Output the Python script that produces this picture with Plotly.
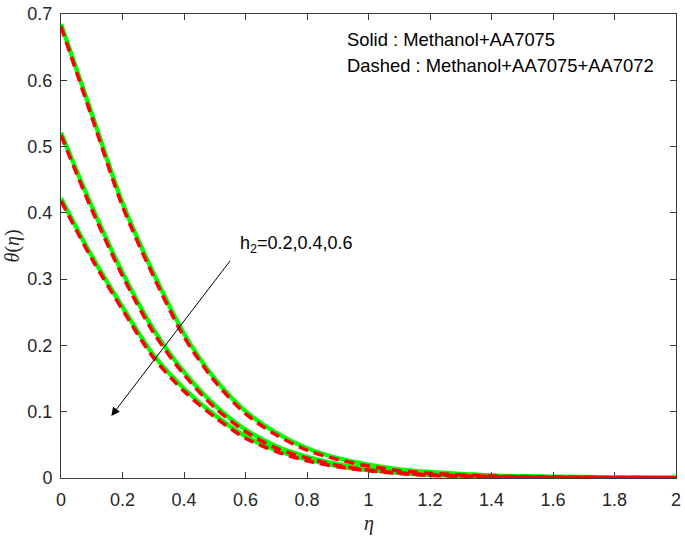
import plotly.graph_objects as go

eta = [0, 0.1, 0.2, 0.3, 0.4, 0.5, 0.6, 0.7, 0.8, 0.9, 1.0, 1.1, 1.2, 1.4, 1.6, 1.8, 2.0]

# Solid: Methanol+AA7075 (h2 = 0.2, 0.4, 0.6)
solid_h1 = [0.685, 0.55, 0.415, 0.31, 0.218, 0.150, 0.101, 0.068, 0.045, 0.030, 0.020, 0.013, 0.009, 0.004, 0.002, 0.001, 0.0005]
solid_h2 = [0.521, 0.41, 0.31, 0.225, 0.160, 0.110, 0.073, 0.048, 0.032, 0.021, 0.014, 0.009, 0.006, 0.003, 0.0013, 0.0006, 0.0003]
solid_h3 = [0.422, 0.335, 0.258, 0.186, 0.135, 0.095, 0.063, 0.042, 0.028, 0.018, 0.012, 0.008, 0.005, 0.0022, 0.001, 0.0005, 0.0002]

# Dashed: Methanol+AA7075+AA7072
dash_h1 = [0.681, 0.545, 0.41, 0.305, 0.213, 0.146, 0.097, 0.065, 0.042, 0.028, 0.018, 0.011, 0.007, 0.003, 0.0014, 0.0007, 0.0003]
dash_h2 = [0.517, 0.405, 0.305, 0.220, 0.156, 0.106, 0.070, 0.045, 0.030, 0.019, 0.012, 0.008, 0.005, 0.0022, 0.001, 0.0004, 0.0002]
dash_h3 = [0.418, 0.331, 0.254, 0.182, 0.131, 0.092, 0.060, 0.040, 0.026, 0.017, 0.011, 0.007, 0.004, 0.0018, 0.0008, 0.0004, 0.0001]

x_ticks = [0, 0.2, 0.4, 0.6, 0.8, 1.0, 1.2, 1.4, 1.6, 1.8, 2.0]
x_tick_labels = ["0", "0.2", "0.4", "0.6", "0.8", "1", "1.2", "1.4", "1.6", "1.8", "2"]
y_ticks = [0, 0.1, 0.2, 0.3, 0.4, 0.5, 0.6, 0.7]
y_tick_labels = ["0", "0.1", "0.2", "0.3", "0.4", "0.5", "0.6", "0.7"]

fig = go.Figure()
for ys in [solid_h1, solid_h2, solid_h3]:
    fig.add_trace(go.Scatter(x=eta, y=ys, mode="lines", line=dict(color="#00ff00", width=4.4, shape="spline", smoothing=0.8),
                             showlegend=False, hoverinfo="skip"))
for ys in [dash_h1, dash_h2, dash_h3]:
    fig.add_trace(go.Scatter(x=eta, y=ys, mode="lines", line=dict(color="#ff0000", width=3.6, dash="10px,6px", shape="spline", smoothing=0.8),
                             showlegend=False, hoverinfo="skip"))

axis_common = dict(showline=True, linecolor="#3a3a3a", linewidth=1, mirror="ticks", ticks="inside", ticklen=6,
                   tickcolor="#3a3a3a", showgrid=False, zeroline=False, ticklabeloverflow="allow",
                   tickfont=dict(family="Liberation Sans, Arial", size=18, color="#262626"))

fig.update_layout(
    width=685, height=538,
    margin=dict(l=61, r=4, t=5, b=60),
    paper_bgcolor="white", plot_bgcolor="white",
    xaxis=dict(range=[0, 2], tickvals=x_ticks, ticktext=x_tick_labels, ticklabelstandoff=5, **axis_common),
    yaxis=dict(range=[0, 0.7], tickvals=y_ticks, ticktext=y_tick_labels, ticklabelstandoff=4, **axis_common),
)

# arrow
fig.add_annotation(x=0.1635, y=0.0936, ax=0.554, ay=0.330, xref="x", yref="y", axref="x", ayref="y",
                   text="", showarrow=True, arrowhead=2, arrowsize=1.7, arrowwidth=1, arrowcolor="black", standoff=0)
fig.add_annotation(x=0.574, y=0.352, xref="x", yref="y", xanchor="left", yanchor="middle", showarrow=False,
                   text="h<sub>2</sub>=0.2,0.4,0.6", font=dict(family="Liberation Sans, Arial", size=18, color="black"))
fig.add_annotation(x=0.922, y=0.661, xref="x", yref="y", xanchor="left", yanchor="middle", showarrow=False,
                   text="Solid : Methanol+AA7075", font=dict(family="Liberation Sans, Arial", size=18.4, color="black"))
fig.add_annotation(x=0.922, y=0.6225, xref="x", yref="y", xanchor="left", yanchor="middle", showarrow=False,
                   text="Dashed : Methanol+AA7075+AA7072", font=dict(family="Liberation Sans, Arial", size=18.4, color="black"))

# axis titles
fig.add_annotation(x=-0.079, y=0.5, xref="paper", yref="paper", xanchor="center", yanchor="middle",
                   textangle=-90, showarrow=False,
                   text="<i>θ</i>(<i>η</i>)", font=dict(family="Liberation Serif, Times New Roman", size=20, color="#262626"))
fig.add_annotation(x=0.5, y=-0.099, xref="paper", yref="paper", xanchor="center", yanchor="middle", showarrow=False,
                   text="<i>η</i>", font=dict(family="Liberation Serif, Times New Roman", size=20, color="#262626"))

fig.write_html("out.html", config={"displayModeBar": False},
               post_script="document.body.style.margin='0px';")
